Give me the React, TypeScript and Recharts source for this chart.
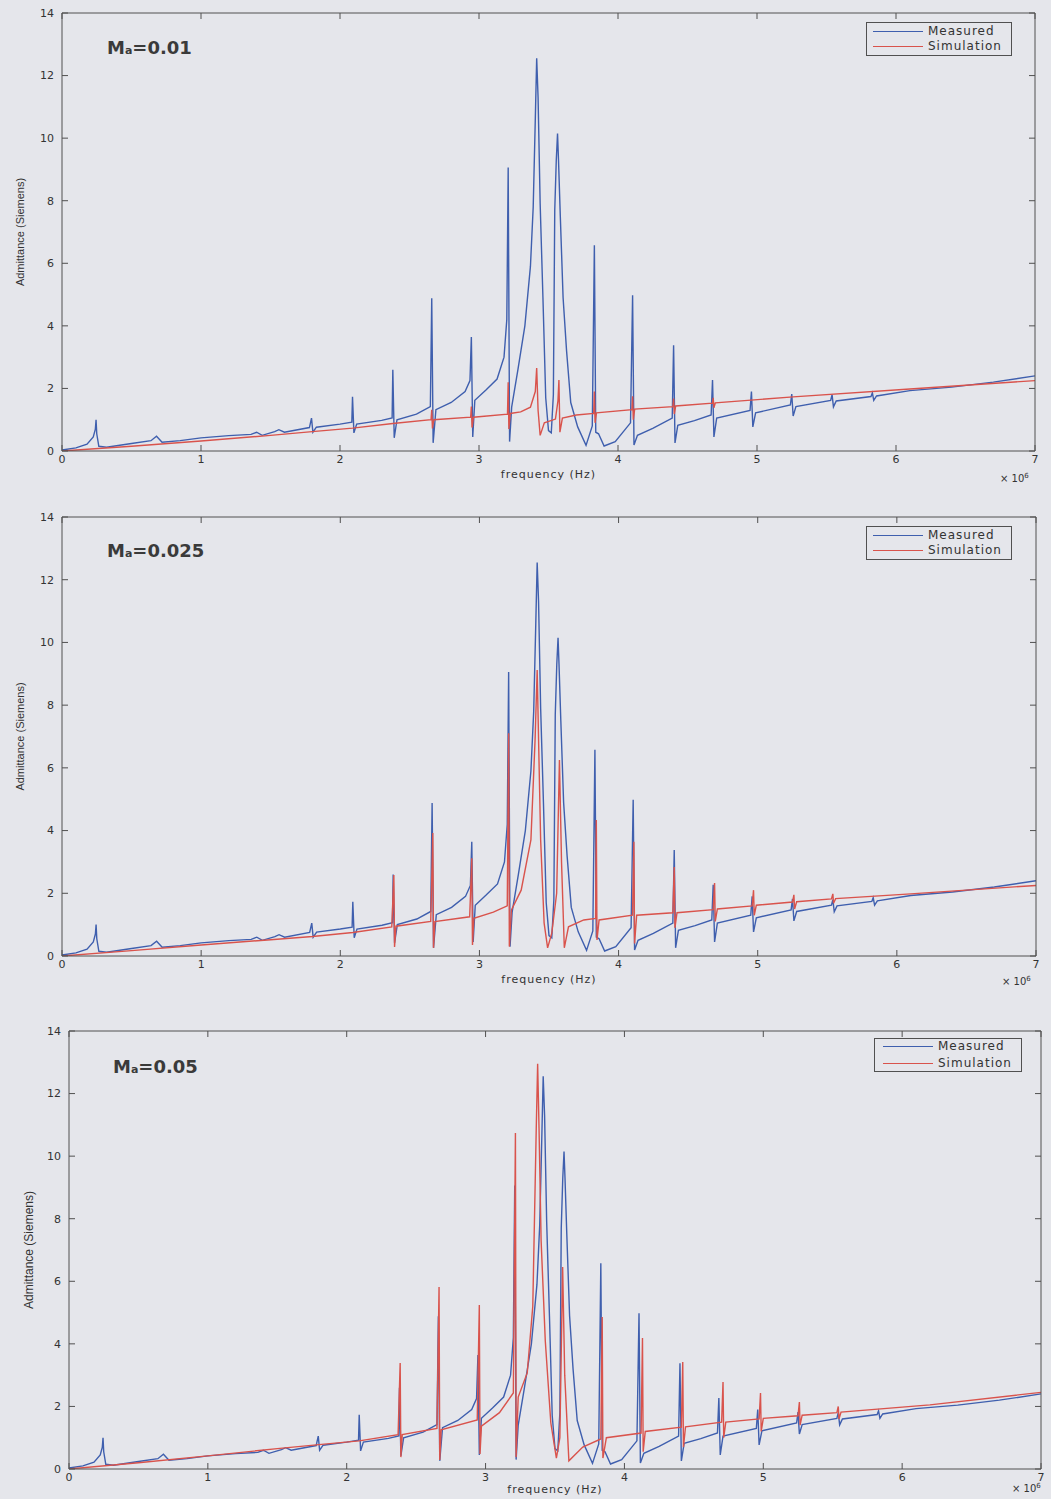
import React from 'react';
import { LineChart, Line, XAxis, YAxis } from 'recharts';

type Pt = { x: number; y: number };
const toPts = (a: number[][]): Pt[] => a.map(([x, y]) => ({ x, y }));

const xTicks = [0, 1, 2, 3, 4, 5, 6, 7];
const yTicks = [0, 2, 4, 6, 8, 10, 12, 14];
const seriesNames = ['Measured', 'Simulation'];
const maValues = ['0.01', '0.025', '0.05'];
const xTitle = 'frequency (Hz)';
const yTitle = 'Admittance (Siemens)';

// Measured admittance (same measurement in all three panels), x in units of 1e6 Hz
const measuredPairs = [
  [0, 0.03], [0.1, 0.1], [0.18, 0.22], [0.225, 0.45], [0.24, 0.7], [0.245, 1.0], [0.25, 0.55], [0.265, 0.15],
  [0.32, 0.12], [0.5, 0.24], [0.64, 0.33], [0.68, 0.47], [0.72, 0.28], [0.85, 0.33], [1.0, 0.42], [1.2, 0.49],
  [1.36, 0.53], [1.4, 0.6], [1.44, 0.5], [1.53, 0.62], [1.56, 0.68], [1.6, 0.6], [1.78, 0.75], [1.795, 1.05],
  [1.805, 0.6], [1.83, 0.76], [2.0, 0.86], [2.085, 0.92], [2.09, 1.73], [2.1, 0.58], [2.12, 0.86], [2.3, 0.98],
  [2.375, 1.06], [2.38, 2.6], [2.39, 0.42], [2.41, 1.0], [2.55, 1.18], [2.65, 1.42], [2.66, 4.88], [2.67, 0.26],
  [2.69, 1.32], [2.8, 1.55], [2.9, 1.9], [2.935, 2.25], [2.945, 3.64], [2.955, 0.45], [2.97, 1.62], [3.05, 1.95],
  [3.13, 2.3], [3.18, 3.0], [3.2, 4.2], [3.21, 9.06], [3.22, 0.3], [3.235, 1.4], [3.28, 2.6], [3.33, 4.0],
  [3.37, 5.9], [3.39, 7.8], [3.405, 10.6], [3.415, 12.55], [3.425, 11.3], [3.44, 7.9], [3.46, 4.9], [3.48, 1.7],
  [3.5, 0.65], [3.52, 0.58], [3.535, 1.8], [3.545, 7.7], [3.556, 9.3], [3.565, 10.15], [3.572, 9.3], [3.585, 7.5],
  [3.605, 4.9], [3.63, 3.2], [3.66, 1.55], [3.71, 0.77], [3.77, 0.18], [3.815, 0.8], [3.83, 6.58], [3.84, 0.6],
  [3.86, 0.55], [3.9, 0.16], [3.98, 0.3], [4.09, 0.9], [4.105, 4.98], [4.115, 0.19], [4.14, 0.5], [4.25, 0.72],
  [4.39, 1.05], [4.4, 3.38], [4.41, 0.26], [4.43, 0.82], [4.55, 0.97], [4.67, 1.15], [4.68, 2.27], [4.69, 0.45],
  [4.71, 1.05], [4.95, 1.3], [4.96, 1.9], [4.97, 0.77], [4.99, 1.22], [5.24, 1.47], [5.25, 1.82], [5.26, 1.12],
  [5.28, 1.42], [5.53, 1.62], [5.54, 1.8], [5.55, 1.41], [5.57, 1.6], [5.82, 1.74], [5.83, 1.86], [5.84, 1.62],
  [5.86, 1.76], [6.1, 1.93], [6.4, 2.04], [6.7, 2.2], [7.0, 2.4],
];

// Simulation, Ma = 0.01
const sim001Pairs = [
  [0, 0], [0.5, 0.15], [1.0, 0.32], [1.5, 0.5], [1.8, 0.62], [2.09, 0.73], [2.38, 0.88], [2.655, 1.0],
  [2.66, 1.32], [2.665, 0.72], [2.675, 1.0], [2.94, 1.08], [2.945, 1.42], [2.95, 0.75], [2.96, 1.08],
  [3.205, 1.18], [3.21, 2.2], [3.215, 0.7], [3.225, 1.2], [3.3, 1.25], [3.37, 1.4], [3.405, 1.9], [3.415, 2.65],
  [3.425, 1.3], [3.44, 0.5], [3.47, 0.9], [3.55, 1.02], [3.568, 1.6], [3.575, 2.27], [3.582, 0.6], [3.6, 1.05],
  [3.7, 1.15], [3.825, 1.2], [3.83, 1.9], [3.835, 0.9], [3.845, 1.22], [4.1, 1.32], [4.105, 1.75], [4.11, 1.0],
  [4.12, 1.34], [4.395, 1.42], [4.4, 1.68], [4.405, 1.18], [4.415, 1.44], [4.68, 1.53], [4.685, 1.7],
  [4.69, 1.38], [4.7, 1.54], [5.26, 1.73], [6.1, 1.98], [7.0, 2.25],
];

// Simulation, Ma = 0.025
const sim0025Pairs = [
  [0, 0], [0.5, 0.17], [1.0, 0.35], [1.5, 0.52], [1.8, 0.62], [2.09, 0.75], [2.37, 0.93], [2.385, 2.58],
  [2.39, 0.29], [2.4, 0.95], [2.65, 1.1], [2.665, 3.92], [2.67, 0.26], [2.68, 1.1], [2.93, 1.25], [2.945, 3.12],
  [2.95, 0.35], [2.96, 1.2], [3.1, 1.4], [3.2, 1.6], [3.21, 7.1], [3.215, 0.3], [3.23, 1.47], [3.3, 2.1],
  [3.37, 3.7], [3.4, 6.9], [3.415, 9.12], [3.425, 6.9], [3.44, 3.7], [3.465, 1.05], [3.49, 0.26], [3.52, 0.73],
  [3.555, 2.0], [3.575, 6.25], [3.59, 3.0], [3.61, 0.26], [3.64, 0.93], [3.75, 1.15], [3.835, 1.2], [3.84, 4.34],
  [3.845, 0.51], [3.86, 1.15], [4.1, 1.3], [4.11, 3.64], [4.115, 0.4], [4.13, 1.3], [4.39, 1.38], [4.4, 2.84],
  [4.405, 0.9], [4.42, 1.38], [4.68, 1.48], [4.69, 2.33], [4.695, 1.1], [4.71, 1.5], [4.96, 1.6], [4.97, 2.1],
  [4.975, 1.3], [4.99, 1.62], [5.25, 1.72], [5.26, 1.95], [5.265, 1.5], [5.28, 1.73], [5.53, 1.82], [5.54, 1.98],
  [5.545, 1.68], [5.56, 1.83], [6.1, 1.98], [7.0, 2.25],
];

// Simulation, Ma = 0.05
const sim005Pairs = [
  [0, 0], [0.5, 0.2], [1.0, 0.42], [1.5, 0.65], [1.8, 0.78], [2.09, 0.9], [2.37, 1.1], [2.385, 3.39],
  [2.39, 0.38], [2.4, 1.1], [2.65, 1.3], [2.665, 5.82], [2.67, 0.29], [2.68, 1.25], [2.94, 1.57], [2.955, 5.24],
  [2.96, 0.48], [2.97, 1.37], [3.1, 1.8], [3.2, 2.43], [3.215, 10.74], [3.22, 0.38], [3.235, 2.3], [3.3, 3.07],
  [3.34, 5.2], [3.365, 10.9], [3.375, 12.95], [3.385, 10.9], [3.4, 7.3], [3.43, 4.1], [3.47, 1.47], [3.51, 0.35],
  [3.535, 1.0], [3.555, 6.46], [3.57, 3.0], [3.6, 0.26], [3.7, 0.7], [3.83, 0.96], [3.84, 4.86], [3.845, 0.35],
  [3.87, 1.0], [4.12, 1.15], [4.13, 4.19], [4.135, 0.55], [4.15, 1.2], [4.41, 1.34], [4.42, 3.42], [4.425, 0.7],
  [4.44, 1.35], [4.7, 1.5], [4.71, 2.78], [4.715, 1.0], [4.73, 1.5], [4.97, 1.6], [4.98, 2.43], [4.985, 1.2],
  [5.0, 1.62], [5.25, 1.7], [5.26, 2.14], [5.265, 1.4], [5.28, 1.72], [5.53, 1.8], [5.54, 2.0], [5.545, 1.6],
  [5.56, 1.82], [6.2, 2.05], [7.0, 2.45],
];

const measured = toPts(measuredPairs);
const simulations = [toPts(sim001Pairs), toPts(sim0025Pairs), toPts(sim005Pairs)];

const BG = '#e5e6eb';
const AXIS = '#505050';
const TEXT = '#333333';
const BLUE = '#3f5fae';
const RED = '#d9534c';
const FONT = '"DejaVu Sans", Arial, sans-serif';

const layouts = [
  { top: 0, height: 490, left: 62, right: 15, xAxisH: 39, xlabOff: 12, ylabOff: 20, ylabSize: 11,
    legend: { x: 866, y: 22, w: 146, h: 34, l1: 9, l2: 24, lx0: 7, lx1: 57, tx: 62 },
    ma: { x: 107, y: 37 }, x10: { x: 1000, y: 472 } },
  { top: 504, height: 491, left: 62, right: 14, xAxisH: 39, xlabOff: 12, ylabOff: 20, ylabSize: 11,
    legend: { x: 866, y: 22, w: 146, h: 34, l1: 9, l2: 24, lx0: 7, lx1: 57, tx: 62 },
    ma: { x: 107, y: 36 }, x10: { x: 1002, y: 471 } },
  { top: 1018, height: 481, left: 69, right: 9, xAxisH: 30, xlabOff: 6, ylabOff: 29, ylabSize: 12,
    legend: { x: 874, y: 20, w: 148, h: 34, l1: 8, l2: 25, lx0: 9, lx1: 59, tx: 64 },
    ma: { x: 113, y: 38 }, x10: { x: 1012, y: 464 } },
];

function Panel({ idx }: { idx: number }) {
  const L = layouts[idx];
  const sim = simulations[idx];
  const tickStyle = { fill: TEXT, fontSize: 11, fontFamily: FONT };
  return (
    <div style={{ position: 'absolute', left: 0, top: L.top, width: 1051, height: L.height }}>
      <LineChart width={1051} height={L.height} margin={{ top: 12, right: L.right, bottom: 0, left: 0 }}>
        <XAxis
          dataKey="x"
          type="number"
          domain={[0, 7]}
          ticks={xTicks}
          interval={0}
          allowDataOverflow
          height={L.xAxisH}
          tickSize={-6}
          tickMargin={10}
          stroke={AXIS}
          tick={tickStyle}
          label={{ value: xTitle, position: 'insideBottom', offset: L.xlabOff, fill: TEXT, fontSize: 11, fontFamily: FONT, style: { letterSpacing: '1px' } }}
        />
        <XAxis
          xAxisId="top"
          orientation="top"
          type="number"
          dataKey="x"
          domain={[0, 7]}
          ticks={xTicks}
          interval={0}
          allowDataOverflow
          height={1}
          tickSize={-6}
          tickMargin={0}
          tickFormatter={() => ''}
          stroke={AXIS}
        />
        <YAxis
          type="number"
          domain={[0, 14]}
          ticks={yTicks}
          interval={0}
          allowDataOverflow
          width={L.left}
          tickSize={-6}
          tickMargin={14}
          stroke={AXIS}
          tick={tickStyle}
          label={{ value: yTitle, angle: -90, position: 'insideLeft', offset: L.ylabOff, fill: TEXT, fontSize: L.ylabSize, fontFamily: '"Liberation Sans", Arial, sans-serif', style: { textAnchor: 'middle' } }}
        />
        <YAxis
          yAxisId="right"
          orientation="right"
          type="number"
          domain={[0, 14]}
          ticks={yTicks}
          interval={0}
          allowDataOverflow
          width={1}
          tickSize={-6}
          tickMargin={0}
          tickFormatter={() => ''}
          stroke={AXIS}
        />
        <Line data={measured} dataKey="y" name={seriesNames[0]} type="linear" stroke={BLUE} strokeWidth={1.4} dot={false} activeDot={false} isAnimationActive={false} />
        <Line data={sim} dataKey="y" name={seriesNames[1]} type="linear" stroke={RED} strokeWidth={1.4} dot={false} activeDot={false} isAnimationActive={false} />
      </LineChart>
      <div style={{ position: 'absolute', left: L.ma.x, top: L.ma.y, fontFamily: FONT, fontWeight: 'bold', fontSize: 18, color: '#3a3a3a', lineHeight: '22px', whiteSpace: 'nowrap' }}>
        M<span style={{ fontSize: 11 }}>a</span>={maValues[idx]}
      </div>
      <div style={{ position: 'absolute', left: L.x10.x, top: L.x10.y, fontFamily: FONT, fontSize: 10, color: TEXT, whiteSpace: 'nowrap' }}>
        × 10<sup style={{ fontSize: 7 }}>6</sup>
      </div>
      <div style={{ position: 'absolute', left: L.legend.x, top: L.legend.y, width: L.legend.w, height: L.legend.h, border: `1px solid ${AXIS}`, boxSizing: 'border-box', background: BG }}>
        {[BLUE, RED].map((c, i) => (
          <div key={i} style={{ position: 'absolute', left: 0, top: (i === 0 ? L.legend.l1 : L.legend.l2) - 1, width: '100%' }}>
            <div style={{ position: 'absolute', left: L.legend.lx0 - 1, top: 0, width: L.legend.lx1 - L.legend.lx0, height: 1.4, background: c }} />
            <div style={{ position: 'absolute', left: L.legend.tx - 1, top: -7, fontFamily: FONT, fontSize: 12, letterSpacing: '1px', color: TEXT, lineHeight: '14px', whiteSpace: 'nowrap' }}>
              {seriesNames[i]}
            </div>
          </div>
        ))}
      </div>
    </div>
  );
}

export default function App() {
  return (
    <div style={{ position: 'absolute', left: 0, top: 0, width: 1051, height: 1499, background: BG, overflow: 'hidden' }}>
      <Panel idx={0} />
      <Panel idx={1} />
      <Panel idx={2} />
    </div>
  );
}
